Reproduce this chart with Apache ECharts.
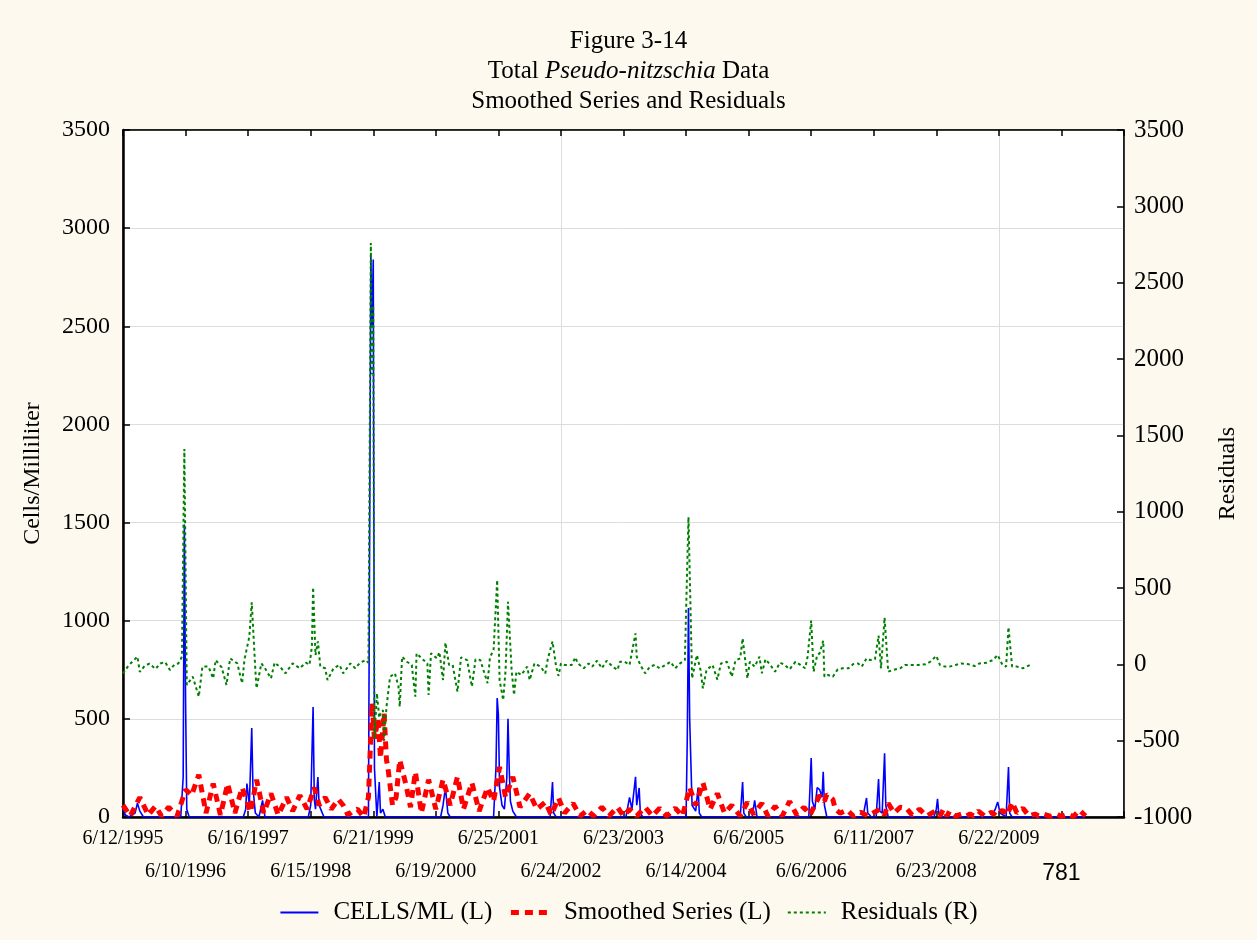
<!DOCTYPE html>
<html>
<head>
<meta charset="utf-8">
<script src="https://cdn.jsdelivr.net/npm/echarts@6/dist/echarts.min.js"></script>
<style>
html,body{margin:0;padding:0;background:#FDF9EE;}
#main{width:1257px;height:940px;}
</style>
</head>
<body>
<div id="main"></div>
<script>
// x axis: observation number, one tick every 52 weekly samples
var tickLabels = ['6/12/1995','6/10/1996','6/16/1997','6/15/1998','6/21/1999','6/19/2000','6/25/2001','6/24/2002',
  '6/23/2003','6/14/2004','6/6/2005','6/6/2006','6/11/2007','6/23/2008','6/22/2009','781'];

// CELLS/ML (left axis) [obs, value]
var cells = [[0,40],[2,10],[5,0],[10,20],[12,70],[14,30],[17,0],[48,0],[50,200],[51,1490],[52,600],[53,40],[55,0],
  [100,0],[102,40],[103,170],[105,60],[107,453],[108,150],[110,20],[113,0],[116,85],[118,0],
  [154,0],[156,60],[158,560],[159,90],[160,40],[162,204],[163,60],[165,30],[167,0],
  [204,0],[206,2860],[207,2500],[208,2840],[209,250],[211,0],[213,178],[214,20],[216,40],[218,0],
  [264,0],[266,60],[268,150],[270,20],[272,0],
  [308,0],[310,250],[311,606],[312,520],[313,150],[315,60],[317,40],[319,200],[320,500],[321,250],[322,80],[324,30],[327,0],
  [355,0],[357,178],[358,20],[360,0],
  [418,0],[421,100],[423,40],[426,205],[427,60],[429,148],[430,20],[432,0],
  [468,0],[469,400],[470,1065],[471,500],[473,60],[476,30],[478,150],[479,20],[481,0],
  [513,0],[515,178],[516,20],[518,0],[523,0],[525,85],[527,0],
  [570,0],[572,300],[573,80],[575,40],[577,150],[579,140],[581,100],[582,230],[583,60],[585,0],
  [615,0],[618,97],[619,20],[622,0],[626,0],[628,193],[629,30],[631,20],[633,325],[634,60],[636,0],
  [674,0],[676,40],[677,92],[678,20],[680,0],
  [722,0],[725,40],[727,77],[729,20],[734,0],[736,255],[737,20],[739,0],[800,0]];

// Smoothed Series (left axis)
var smoothed = [[0,60],[6,5],[14,100],[21,10],[27,55],[32,5],[38,50],[45,5],[52,140],[57,110],[63,215],[69,20],[75,170],
  [81,10],[87,170],[93,20],[99,150],[106,25],[111,190],[117,20],[123,120],[129,10],[136,100],[141,30],[147,110],[153,40],
  [159,150],[163,60],[168,100],[173,40],[179,90],[183,60],[187,10],[191,30],[195,40],[200,0],[204,100],[207,580],[209,400],
  [212,500],[214,300],[217,530],[219,290],[220,260],[224,60],[227,100],[230,290],[235,170],[239,50],[243,230],[248,20],
  [254,190],[260,40],[266,190],[272,60],[278,205],[283,40],[290,175],[296,30],[303,150],[308,80],[313,255],[318,100],
  [324,205],[330,50],[338,120],[344,40],[351,76],[356,10],[362,97],[367,20],[374,70],[380,5],[386,35],[391,5],[398,50],
  [404,5],[411,50],[416,5],[421,40],[427,5],[434,50],[440,5],[446,45],[452,5],[459,45],[465,5],[471,150],[476,60],
  [482,175],[488,40],[494,120],[500,20],[506,60],[513,5],[519,75],[524,15],[531,70],[536,5],[542,55],[548,5],[554,80],
  [560,10],[566,50],[571,10],[575,60],[579,110],[583,80],[585,115],[590,90],[592,40],[596,20],[602,35],[607,5],[613,25],
  [619,5],[629,40],[633,10],[636,70],[641,20],[646,50],[651,45],[656,10],[662,40],[668,5],[675,30],[679,5],[682,40],
  [685,5],[687,30],[692,5],[697,15],[701,5],[704,15],[707,5],[711,30],[716,5],[722,25],[726,5],[731,35],[735,10],
  [739,75],[743,20],[748,45],[753,5],[758,15],[761,5],[765,15],[771,3],[776,15],[780,3],[785,15],[790,3],[795,35],[800,5]];

// Residuals (right axis)
var residuals = [[0,-60],[4,-15],[8,20],[12,50],[14,-50],[18,-10],[22,5],[27,-30],[31,5],[35,15],[39,-37],[43,0],[46,6],
  [49,50],[51,1410],[53,-135],[58,-81],[63,-212],[66,-15],[71,-15],[75,-92],[77,28],[82,-20],[86,-135],[89,39],[95,6],
  [99,-124],[101,33],[105,181],[107,406],[110,-37],[111,-157],[115,6],[118,-26],[123,-92],[126,11],[131,-20],[135,-59],
  [139,-15],[141,6],[147,-26],[152,11],[155,-4],[157,116],[158,504],[160,61],[162,150],[164,-15],[168,-26],[170,-103],
  [175,-26],[180,-4],[183,-59],[189,6],[193,-26],[197,11],[202,28],[204,10],[206,2760],[207,1900],[208,2350],[209,-490],
  [211,-190],[213,-350],[214,-320],[216,-300],[217,-500],[219,-280],[222,-81],[226,-59],[229,-146],[230,-277],[232,50],
  [236,17],[240,-4],[243,-212],[244,72],[249,33],[253,6],[254,-201],[256,72],[261,39],[263,80],[266,-103],[268,142],
  [271,-4],[274,-4],[278,-179],[281,46],[286,28],[290,-146],[293,33],[297,28],[303,-124],[305,46],[308,94],[311,552],
  [313,-103],[316,-234],[318,-37],[320,410],[323,-37],[325,-201],[327,-48],[331,-70],[336,-15],[338,-103],[342,6],
  [347,-15],[351,-59],[353,33],[357,150],[360,-15],[362,-76],[364,6],[367,-4],[373,-4],[376,46],[378,6],[383,-26],
  [387,6],[390,-15],[394,24],[398,-26],[402,24],[407,-15],[411,-37],[413,17],[417,17],[421,-4],[426,203],[427,50],
  [430,-4],[434,-59],[438,-15],[442,-4],[446,-26],[451,-4],[455,17],[459,-26],[463,6],[467,28],[470,965],[473,-92],
  [477,61],[480,-37],[482,-157],[485,-37],[490,-4],[494,-100],[497,6],[502,17],[506,-81],[509,24],[513,39],[515,170],
  [519,-92],[521,17],[525,-15],[529,50],[531,-59],[534,33],[538,-4],[542,-48],[546,11],[550,-4],[554,-33],[559,17],
  [563,-4],[567,-26],[569,50],[572,286],[574,-48],[577,61],[579,72],[582,155],[583,-81],[586,-70],[590,-81],[594,-33],
  [598,-26],[603,-26],[607,2],[611,6],[614,-15],[618,39],[621,28],[625,33],[628,188],[630,-26],[633,306],[636,-48],
  [640,-37],[646,-26],[650,-4],[656,-4],[661,-4],[667,0],[671,17],[676,55],[679,-4],[683,-15],[687,-15],[692,-4],
  [697,6],[702,2],[708,-11],[712,6],[718,11],[723,28],[727,61],[731,-4],[734,-15],[736,243],[739,-15],[743,-15],
  [748,-26],[754,-4]];

var serif = 'Liberation Serif';
var plain = function (v) { return String(v); };
// tick labels alternate between two rows: even ticks on row 1, odd ticks on row 2
function rowLabels(row) {
  return function (v) {
    var k = Math.round(v / 52);
    var t = tickLabels[k];
    if (t === undefined || k % 2 !== row) return '';
    if (t === '781') return '{s|781}';
    return t;
  };
}
var myChart = echarts.init(document.getElementById('main'));
myChart.setOption({
  backgroundColor: '#FDF9EE',
  animation: false,
  title: {
    left: 'center',
    top: 21,
    text: '{n|Figure 3-14}\n{n|Total }{i|Pseudo-nitzschia}{n| Data}\n{n|Smoothed Series and Residuals}',
    textStyle: {
      fontWeight: 'normal',
      rich: {
        n: {fontFamily: serif, fontSize: 25, fontWeight: 'normal', color: '#000', lineHeight: 30},
        i: {fontFamily: serif, fontSize: 25, fontWeight: 'normal', color: '#000', fontStyle: 'italic', lineHeight: 30}
      }
    }
  },
  legend: {
    bottom: 10,
    left: 'center',
    itemWidth: 38,
    itemHeight: 14,
    itemGap: 16,
    itemStyle: {opacity: 0},
    textStyle: {fontFamily: serif, fontSize: 25, color: '#000', padding: [0, 0, 0, 10]},
    data: [
      {name: 'CELLS/ML (L)', lineStyle: {width: 2}},
      {name: 'Smoothed Series (L)', lineStyle: {width: 5}},
      {name: 'Residuals (R)', lineStyle: {width: 2}}
    ]
  },
  grid: {
    left: 123, right: 133, top: 130, bottom: 123,
    show: true, backgroundColor: '#fff', borderColor: '#000', borderWidth: 1
  },
  xAxis: [
    {
      type: 'value', position: 'bottom', min: 0, max: 832, interval: 52,
      axisLine: {onZero: false, lineStyle: {color: '#000', width: 2.5}},
      axisTick: {inside: true, length: 6, lineStyle: {color: '#000', width: 1.5}},
      splitLine: {show: false},
      axisLabel: {
        showMinLabel: true, showMaxLabel: true,
        margin: 12, fontFamily: serif, fontSize: 20, color: '#000',
        formatter: rowLabels(0)
      }
    },
    {
      type: 'value', position: 'top', min: 0, max: 832, interval: 52,
      axisLine: {onZero: false, lineStyle: {color: '#000', width: 1.5}},
      axisTick: {inside: true, length: 6, lineStyle: {color: '#000', width: 1.5}},
      axisLabel: {show: false},
      splitLine: {show: false}
    },
    {
      type: 'value', position: 'bottom', min: 0, max: 832, interval: 364,
      axisLine: {show: false, onZero: false}, axisTick: {show: false}, axisLabel: {show: false},
      splitLine: {show: true, lineStyle: {color: '#dcdcdc', width: 1}}
    },
    {
      type: 'value', position: 'bottom', min: 0, max: 832, interval: 52,
      axisLine: {show: false, onZero: false}, axisTick: {show: false}, splitLine: {show: false},
      axisLabel: {
        showMinLabel: true, showMaxLabel: true,
        margin: 45, fontFamily: serif, fontSize: 20, color: '#000',
        formatter: rowLabels(1),
        rich: {s: {fontFamily: 'Liberation Sans', fontSize: 23, color: '#000'}}
      }
    }
  ],
  yAxis: [
    {
      type: 'value', position: 'left', min: 0, max: 3500, interval: 500,
      name: 'Cells/Milliliter', nameLocation: 'middle', nameGap: 78, nameRotate: 90,
      nameTextStyle: {fontFamily: serif, fontSize: 24, color: '#000'},
      axisLine: {show: true, onZero: false, lineStyle: {color: '#000', width: 2.5}},
      axisTick: {show: true, inside: true, length: 7, lineStyle: {color: '#000', width: 1.5}},
      axisLabel: {margin: 13, fontFamily: serif, fontSize: 24, color: '#000', formatter: plain},
      splitLine: {show: true, lineStyle: {color: '#dcdcdc', width: 1}}
    },
    {
      type: 'value', position: 'right', min: -1000, max: 3500, interval: 500,
      name: 'Residuals', nameLocation: 'middle', nameGap: 92, nameRotate: 90,
      nameTextStyle: {fontFamily: serif, fontSize: 24, color: '#000'},
      axisLine: {show: true, onZero: false, lineStyle: {color: '#000', width: 1.5}},
      axisTick: {show: true, inside: true, length: 7, lineStyle: {color: '#000', width: 1.5}},
      axisLabel: {margin: 10, fontFamily: serif, fontSize: 25, color: '#000', formatter: plain},
      splitLine: {show: false}
    }
  ],
  series: [
    {
      name: 'CELLS/ML (L)', type: 'line', xAxisIndex: 0, yAxisIndex: 0,
      data: cells, showSymbol: false, symbol: 'none',
      lineStyle: {color: '#0000FF', width: 1.6},
      itemStyle: {color: '#0000FF'}
    },
    {
      name: 'Smoothed Series (L)', type: 'line', xAxisIndex: 0, yAxisIndex: 0,
      data: smoothed, showSymbol: false, symbol: 'none',
      lineStyle: {color: '#FF0000', width: 5, type: [8, 6]},
      itemStyle: {color: '#FF0000'}
    },
    {
      name: 'Residuals (R)', type: 'line', xAxisIndex: 0, yAxisIndex: 1,
      data: residuals, showSymbol: false, symbol: 'none',
      lineStyle: {color: '#008000', width: 2, type: [3, 3]},
      itemStyle: {color: '#008000'}
    }
  ]
});
</script>
</body>
</html>
